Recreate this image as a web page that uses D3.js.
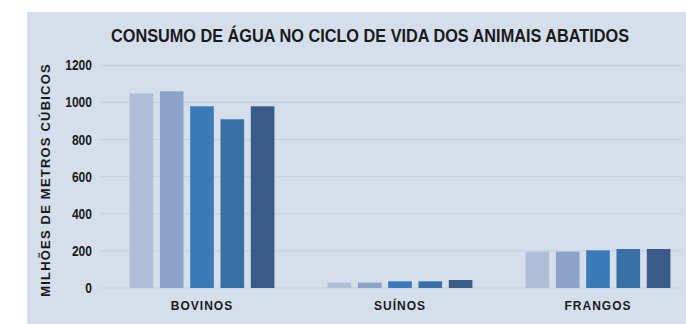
<!DOCTYPE html>
<html>
<head>
<meta charset="utf-8">
<script src="https://cdn.jsdelivr.net/npm/d3@7"></script>
<style>
  body { margin: 0; background: #fff; }
  text { font-family: "Liberation Sans Narrow", "Arial Narrow", "Liberation Sans", Arial, sans-serif; font-weight: bold; fill: #1a1a1a; }
</style>
</head>
<body>
<div id="chart"></div>
<script>
// data
var categories = ["BOVINOS", "SUÍNOS", "FRANGOS"];
var series = ["s1", "s2", "s3", "s4", "s5"];
var bovinos = [1049, 1060, 979, 909, 979];
var suinos = [29, 29, 36, 36, 43];
var frangos = [196, 196, 203, 210, 210];
var yTicks = [0, 200, 400, 600, 800, 1000, 1200];
var colors = ["#b0bdd6", "#8da2c8", "#3b7ab8", "#3870a6", "#3a5b88"];

var values = [bovinos, suinos, frangos];

var width = 686, height = 324;

var svg = d3.select("#chart").append("svg")
  .attr("width", width)
  .attr("height", height);

// light blue panel
svg.append("rect")
  .attr("x", 27).attr("y", 12)
  .attr("width", width - 27).attr("height", height - 12)
  .attr("fill", "#d5dfec");

var y = d3.scaleLinear().domain([0, 1200]).range([288, 65.3]);

var x0 = d3.scaleBand().domain(categories).range([103, 697]).padding(0);
var x1 = d3.scaleBand().domain(series).range([0, 151.5]).paddingInner(0.22).paddingOuter(0.11);
var groupOffset = (x0.bandwidth() - 151.5) / 2;

// gridlines
svg.selectAll(".grid")
  .data(yTicks)
  .enter()
  .append("line")
  .attr("x1", 100).attr("x2", 682)
  .attr("y1", function (d) { return y(d); })
  .attr("y2", function (d) { return y(d); })
  .attr("stroke", "#c3cedc")
  .attr("stroke-width", 1);

// y tick labels (squeezed a bit, the original font is condensed)
svg.selectAll(".ytick")
  .data(yTicks)
  .enter()
  .append("text")
  .attr("transform", function (d) { return "translate(92," + y(d) + ") scale(0.86,1)"; })
  .attr("dy", "0.36em")
  .attr("text-anchor", "end")
  .attr("font-size", 14)
  .text(function (d) { return d; });

// bars
var group = svg.selectAll(".group")
  .data(categories)
  .enter()
  .append("g")
  .attr("transform", function (d) {
    return "translate(" + (x0(d) + groupOffset) + ",0)";
  });

group.selectAll("rect")
  .data(function (d, i) {
    return values[i].map(function (v, j) { return { key: series[j], value: v, idx: j }; });
  })
  .enter()
  .append("rect")
  .attr("x", function (d) { return x1(d.key); })
  .attr("y", function (d) { return y(d.value); })
  .attr("width", x1.bandwidth())
  .attr("height", function (d) { return y(0) - y(d.value); })
  .attr("fill", function (d) { return colors[d.idx]; });

// category labels
svg.selectAll(".cat")
  .data(categories)
  .enter()
  .append("text")
  .attr("x", function (d) { return x0(d) + x0.bandwidth() / 2; })
  .attr("y", 310)
  .attr("text-anchor", "middle")
  .attr("font-size", 12)
  .attr("letter-spacing", "1px")
  .text(function (d) { return d; });

// y axis title
svg.append("text")
  .attr("transform", "translate(50,180) rotate(-90)")
  .attr("text-anchor", "middle")
  .attr("font-size", 13)
  .attr("letter-spacing", "1.2px")
  .text("MILHÕES DE METROS CÚBICOS");

// title
svg.append("text")
  .attr("x", 370)
  .attr("y", 42)
  .attr("text-anchor", "middle")
  .attr("font-size", 18)
  .attr("textLength", 518)
  .attr("lengthAdjust", "spacingAndGlyphs")
  .text("CONSUMO DE ÁGUA NO CICLO DE VIDA DOS ANIMAIS ABATIDOS");
</script>
</body>
</html>
